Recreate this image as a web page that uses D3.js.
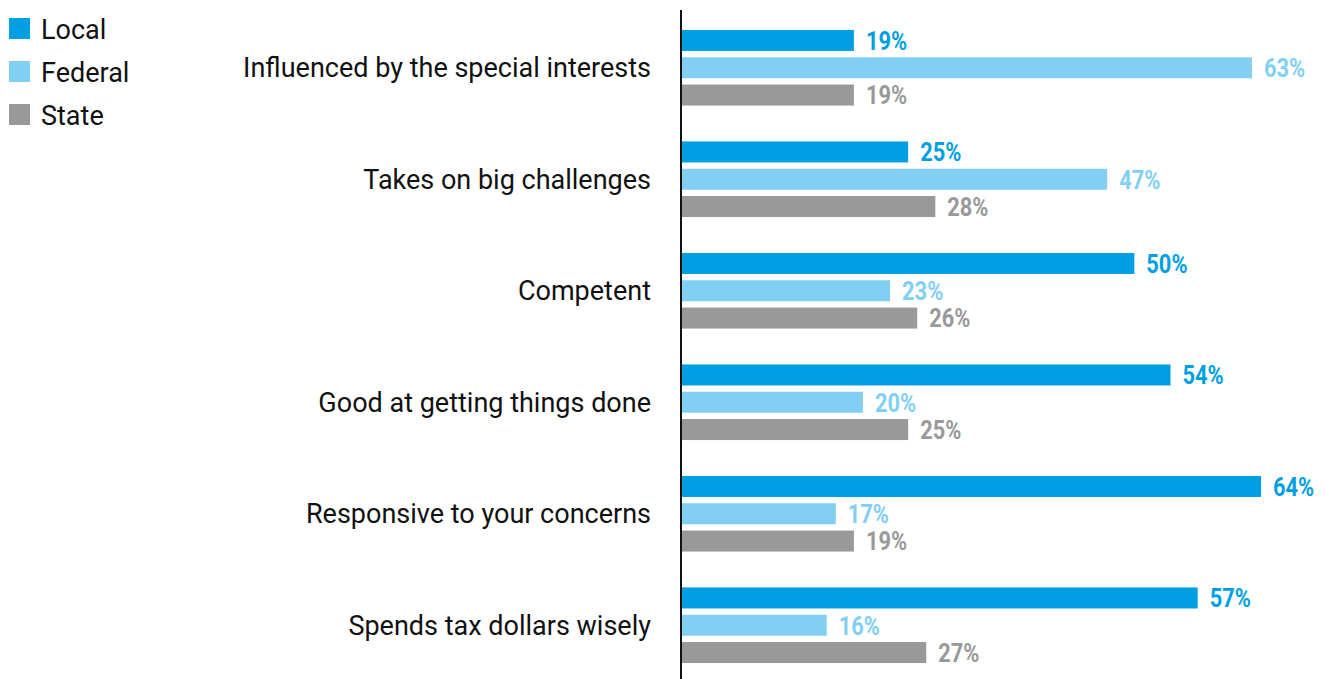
<!DOCTYPE html>
<html>
<head>
<meta charset="utf-8">
<script src="https://cdn.jsdelivr.net/npm/d3@7"></script>
<style>
  html, body { margin: 0; padding: 0; background: #fff; }
  svg { display: block; }
  text { font-family: Roboto, "Noto Sans", sans-serif; }
</style>
</head>
<body>
<svg id="chart" width="1327" height="679"></svg>
<script>
// Share of respondents describing each level of government with a trait
const categories = [
  "Influenced by the special interests",
  "Takes on big challenges",
  "Competent",
  "Good at getting things done",
  "Responsive to your concerns",
  "Spends tax dollars wisely"
];
const seriesNames = ["Local", "Federal", "State"];
const localValues   = [19, 25, 50, 54, 64, 57];
const federalValues = [63, 47, 23, 20, 17, 16];
const stateValues   = [19, 28, 26, 25, 19, 27];
const seriesColors  = ["#009fe3", "#82cff4", "#999999"];

const seriesValues = [localValues, federalValues, stateValues];

const svg = d3.select("#chart");

const x = d3.scaleLinear().domain([0, 64]).range([682, 1261]);
const y0 = d3.scaleBand().domain(categories).range([12, 681]).padding(0);
const y1 = d3.scaleBand().domain(seriesNames).range([0, 75.6]).paddingInner(0.23).paddingOuter(0);
const groupOffset = (y0.bandwidth() - 75.6) / 2;

const rows = categories.map((c, i) => ({
  category: c,
  items: seriesNames.map((s, j) => ({ series: s, value: seriesValues[j][i], color: seriesColors[j] }))
}));

const groups = svg.selectAll("g.group")
  .data(rows)
  .join("g")
  .attr("class", "group")
  .attr("transform", d => `translate(0,${y0(d.category) + groupOffset})`);

groups.selectAll("rect")
  .data(d => d.items)
  .join("rect")
  .attr("x", x(0))
  .attr("y", d => y1(d.series))
  .attr("width", d => x(d.value) - x(0))
  .attr("height", y1.bandwidth())
  .attr("fill", d => d.color);

// Value labels, set in a narrowed bold face
groups.selectAll("text.value")
  .data(d => d.items)
  .join("text")
  .attr("class", "value")
  .attr("transform", d => `translate(${x(d.value) + 12},${y1(d.series) + y1.bandwidth() / 2}) scale(0.84,1)`)
  .attr("dy", "0.36em")
  .attr("font-size", 26)
  .attr("font-weight", 700)
  .attr("fill", d => d.color)
  .text(d => d.value + "%");

// Category axis on the left of the bars
const yAxis = d3.axisLeft(y0).tickSize(0).tickPadding(30);
const axisG = svg.append("g")
  .attr("transform", `translate(${x(0) - 1},1)`)
  .call(yAxis);
axisG.select(".domain").remove();
axisG.selectAll("text")
  .attr("font-size", 27)
  .attr("font-family", "Roboto, sans-serif")
  .attr("fill", "#111");

svg.append("line")
  .attr("x1", x(0) - 1).attr("x2", x(0) - 1)
  .attr("y1", 10).attr("y2", 679)
  .attr("stroke", "#111")
  .attr("stroke-width", 2);

// Legend
const legend = svg.append("g").attr("transform", "translate(9,18)");
const legendItems = legend.selectAll("g")
  .data(seriesNames)
  .join("g")
  .attr("transform", (d, i) => `translate(0,${i * 43})`);
legendItems.append("rect")
  .attr("width", 21).attr("height", 21)
  .attr("fill", (d, i) => seriesColors[i]);
legendItems.append("text")
  .attr("x", 32).attr("y", 11)
  .attr("dy", "0.36em")
  .attr("font-size", 27)
  .attr("fill", "#111")
  .text(d => d);
</script>
</body>
</html>
